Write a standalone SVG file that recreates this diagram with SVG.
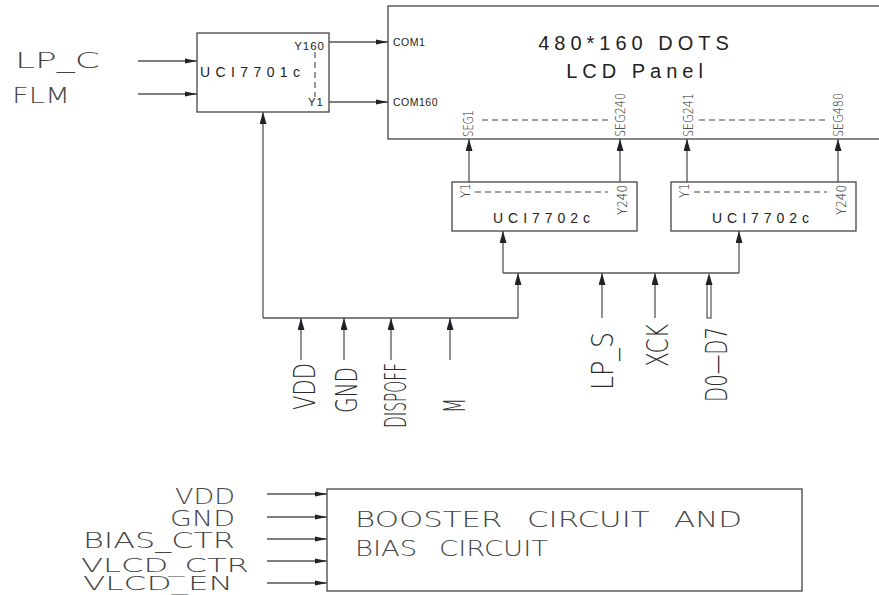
<svg xmlns="http://www.w3.org/2000/svg" width="879" height="595" viewBox="0 0 879 595">
<defs>
<marker id="ah" viewBox="0 0 12 6" refX="12" refY="3" markerWidth="12" markerHeight="6" markerUnits="userSpaceOnUse" orient="auto">
<path d="M0,0.5 L12,3 L0,5.5 Z" fill="#1f2328"/>
</marker>
<marker id="av" viewBox="0 0 12 7" refX="12" refY="3.5" markerWidth="12" markerHeight="7" markerUnits="userSpaceOnUse" orient="auto">
<path d="M0,0 L12,3.5 L0,7 Z" fill="#1f2328"/>
</marker>
<style>
.box{fill:#fff;stroke:#444;stroke-width:1.3}
.ln{fill:none;stroke:#555;stroke-width:1.3}
.dash{fill:none;stroke:#444;stroke-width:1.1;stroke-dasharray:6 4}
.thin{font-family:"DejaVu Sans","Liberation Sans",sans-serif;font-weight:200;fill:#444}
.cond{font-family:"DejaVu Sans","Liberation Sans",sans-serif;font-weight:200;fill:#2a2a2a}
.ar{font-family:"Liberation Sans",Arial,sans-serif;fill:#222}
</style>
</defs>

<g id="connectors">
<line class="ln" x1="138" y1="61" x2="197" y2="61" marker-end="url(#ah)"/>
<line class="ln" x1="138" y1="94" x2="197" y2="94" marker-end="url(#ah)"/>
<line class="ln" x1="329" y1="42" x2="388" y2="42" marker-end="url(#ah)"/>
<line class="ln" x1="329" y1="102" x2="388" y2="102" marker-end="url(#ah)"/>
<line class="ln" x1="469" y1="182" x2="469" y2="139" marker-end="url(#av)"/>
<line class="ln" x1="620" y1="182" x2="620" y2="139" marker-end="url(#av)"/>
<line class="ln" x1="687" y1="182" x2="687" y2="139" marker-end="url(#av)"/>
<line class="ln" x1="838" y1="182" x2="838" y2="139" marker-end="url(#av)"/>
<polyline class="ln" points="263,318 263,112" marker-end="url(#av)"/>
<line class="ln" x1="263" y1="318" x2="518" y2="318"/>
<line class="ln" x1="518" y1="318" x2="518" y2="273" marker-end="url(#av)"/>
<line class="ln" x1="503" y1="273" x2="739" y2="273"/>
<line class="ln" x1="503" y1="273" x2="503" y2="231" marker-end="url(#av)"/>
<line class="ln" x1="739" y1="273" x2="739" y2="231" marker-end="url(#av)"/>
<line class="ln" x1="301" y1="360" x2="301" y2="318" marker-end="url(#av)"/>
<line class="ln" x1="344" y1="360" x2="344" y2="318" marker-end="url(#av)"/>
<line class="ln" x1="391" y1="360" x2="391" y2="318" marker-end="url(#av)"/>
<line class="ln" x1="450" y1="360" x2="450" y2="318" marker-end="url(#av)"/>
<line class="ln" x1="602" y1="318" x2="602" y2="273" marker-end="url(#av)"/>
<line class="ln" x1="655" y1="318" x2="655" y2="273" marker-end="url(#av)"/>
<rect x="707" y="284" width="4" height="34" fill="#fff" stroke="#444" stroke-width="1.1"/>
<path d="M705.5,285 L709,273 L712.5,285 Z" fill="#1f2328"/>
<line class="ln" x1="267" y1="494" x2="327" y2="494" marker-end="url(#ah)"/>
<line class="ln" x1="267" y1="517" x2="327" y2="517" marker-end="url(#ah)"/>
<line class="ln" x1="267" y1="539" x2="327" y2="539" marker-end="url(#ah)"/>
<line class="ln" x1="267" y1="561" x2="327" y2="561" marker-end="url(#ah)"/>
<line class="ln" x1="267" y1="583" x2="327" y2="583" marker-end="url(#ah)"/>
</g>

<g id="inputs-left">
<text class="thin" x="15" y="68" font-size="21" textLength="85" lengthAdjust="spacingAndGlyphs">LP_C</text>
<text class="thin" x="12" y="103" font-size="21" textLength="58" lengthAdjust="spacingAndGlyphs">FLM</text>
</g>

<g id="uci7701c">
<rect class="box" x="197" y="33" width="132" height="79"/>
<text class="ar" x="200" y="77" font-size="14" textLength="100" lengthAdjust="spacing">UCI7701c</text>
<text class="ar" x="325" y="50" font-size="11.5" text-anchor="end" letter-spacing="1">Y160</text>
<text class="ar" x="324" y="106" font-size="11.5" text-anchor="end" letter-spacing="1">Y1</text>
<line class="dash" x1="315" y1="52" x2="315" y2="97" stroke-dasharray="4 3"/>
</g>

<g id="lcd-panel">
<rect class="box" x="388" y="6" width="520" height="133"/>
<text class="ar" x="636" y="50" font-size="20" text-anchor="middle" letter-spacing="5">480*160 DOTS</text>
<text class="ar" x="637" y="78" font-size="20" text-anchor="middle" letter-spacing="5">LCD Panel</text>
<text class="ar" x="393" y="46" font-size="10.5" letter-spacing="0.5">COM1</text>
<text class="ar" x="393" y="106" font-size="10.5" letter-spacing="0.5">COM160</text>
<text class="cond" transform="translate(473,137) rotate(-90)" font-size="14" textLength="27" lengthAdjust="spacingAndGlyphs">SEG1</text>
<text class="cond" transform="translate(625,137) rotate(-90)" font-size="14" textLength="44" lengthAdjust="spacingAndGlyphs">SEG240</text>
<text class="cond" transform="translate(693,137) rotate(-90)" font-size="14" textLength="44" lengthAdjust="spacingAndGlyphs">SEG241</text>
<text class="cond" transform="translate(843,137) rotate(-90)" font-size="14" textLength="44" lengthAdjust="spacingAndGlyphs">SEG480</text>
<line class="dash" x1="482" y1="120" x2="608" y2="120"/>
<line class="dash" x1="699" y1="120" x2="826" y2="120"/>
</g>

<g id="uci7702c-1">
<rect class="box" x="452" y="182" width="185" height="49"/>
<text class="ar" x="493" y="223" font-size="14" textLength="97" lengthAdjust="spacing">UCI7702c</text>
<text class="cond" transform="translate(470,198) rotate(-90)" font-size="14" textLength="15" lengthAdjust="spacingAndGlyphs">Y1</text>
<text class="cond" transform="translate(627,215) rotate(-90)" font-size="14" textLength="30" lengthAdjust="spacingAndGlyphs">Y240</text>
<line class="dash" x1="475" y1="192" x2="608" y2="192"/>
</g>

<g id="uci7702c-2">
<rect class="box" x="671" y="182" width="185" height="49"/>
<text class="ar" x="712" y="223" font-size="14" textLength="97" lengthAdjust="spacing">UCI7702c</text>
<text class="cond" transform="translate(689,198) rotate(-90)" font-size="14" textLength="15" lengthAdjust="spacingAndGlyphs">Y1</text>
<text class="cond" transform="translate(846,215) rotate(-90)" font-size="14" textLength="30" lengthAdjust="spacingAndGlyphs">Y240</text>
<line class="dash" x1="694" y1="192" x2="827" y2="192"/>
</g>

<g id="inputs-bottom">
<text class="cond" transform="translate(315,410) rotate(-90)" font-size="31" textLength="47" lengthAdjust="spacingAndGlyphs">VDD</text>
<text class="cond" transform="translate(357,413) rotate(-90)" font-size="31" textLength="46" lengthAdjust="spacingAndGlyphs">GND</text>
<text class="cond" transform="translate(406,428) rotate(-90)" font-size="31" textLength="65" lengthAdjust="spacingAndGlyphs">DISPOFF</text>
<text class="cond" transform="translate(465,413) rotate(-90)" font-size="31" textLength="15" lengthAdjust="spacingAndGlyphs">M</text>
<text class="cond" transform="translate(613,390) rotate(-90)" font-size="31" textLength="58" lengthAdjust="spacingAndGlyphs">LP_S</text>
<text class="cond" transform="translate(668,367) rotate(-90)" font-size="31" textLength="43" lengthAdjust="spacingAndGlyphs">XCK</text>
<text class="cond" transform="translate(727,402) rotate(-90)" font-size="31" textLength="75" lengthAdjust="spacingAndGlyphs">D0—D7</text>
</g>

<g id="booster">
<rect class="box" x="327" y="489" width="475" height="102"/>
<text class="thin" x="355" y="527" font-size="21" word-spacing="10" textLength="387" lengthAdjust="spacingAndGlyphs">BOOSTER CIRCUIT AND</text>
<text class="thin" x="355" y="556" font-size="21" word-spacing="10" textLength="193" lengthAdjust="spacingAndGlyphs">BIAS CIRCUIT</text>
</g>

<g id="booster-inputs">
<text class="thin" x="175" y="504" font-size="21" textLength="60" lengthAdjust="spacingAndGlyphs">VDD</text>
<text class="thin" x="170" y="526" font-size="21" textLength="65" lengthAdjust="spacingAndGlyphs">GND</text>
<text class="thin" x="83" y="548" font-size="21" textLength="152" lengthAdjust="spacingAndGlyphs">BIAS_CTR</text>
<text class="thin" x="81" y="572" font-size="20" textLength="168" lengthAdjust="spacingAndGlyphs">VLCD_CTR</text>
<text class="thin" x="83" y="590" font-size="20" textLength="150" lengthAdjust="spacingAndGlyphs">VLCD_EN</text>
</g>
</svg>
